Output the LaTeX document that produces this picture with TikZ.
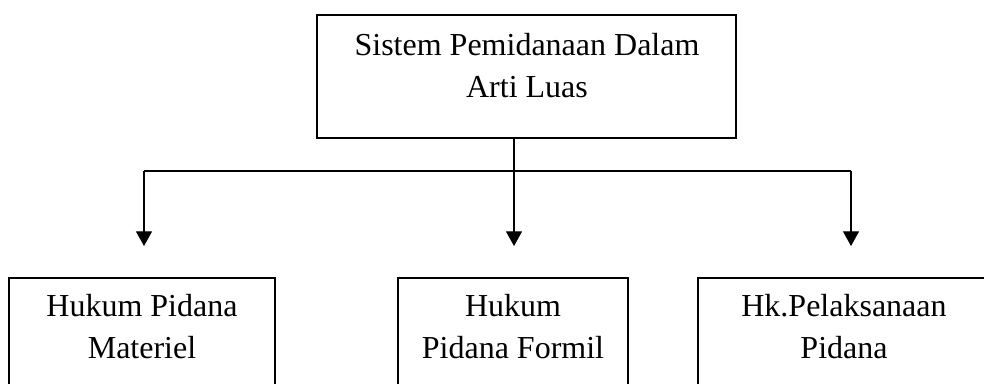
\documentclass[tikz,border=0pt]{standalone}
\usepackage{fontspec}
\setmainfont{Liberation Serif}
\usetikzlibrary{arrows.meta}
\begin{document}
\begin{tikzpicture}[x=0.75pt,y=-0.75pt,
  box/.style={draw, line width=0.9pt, inner sep=0pt},
  lbl/.style={font=\fontsize{24}{31.5}\selectfont, align=center, anchor=base, inner sep=0pt},
  conn/.style={line width=0.9pt},
  arr/.style={conn, -{Triangle[width=12pt,length=11pt]}}]
\useasboundingbox (0,0) rectangle (984,383);
\clip (0,0) rectangle (984,383);
% boxes
\node[box, minimum width=314.25pt, minimum height=92.25pt] (top) at (526.5,76.5) {};
\node[box, minimum width=199.5pt, minimum height=106.5pt] (left) at (142,349) {};
\node[box, minimum width=172.5pt, minimum height=106.5pt] (mid) at (513,349) {};
\node[box, minimum width=219pt, minimum height=106.5pt] (right) at (844,349) {};
% texts (anchor base = baseline of the last line)
\node[lbl] (ttop) at (527,97) {Sistem Pemidanaan Dalam\\Arti Luas};
\node[lbl] (tleft) at (142,358) {Hukum Pidana\\Materiel};
\node[lbl] (tmid) at (513,358) {Hukum\\Pidana Formil};
\node[lbl] (tright) at (844,358) {Hk.Pelaksanaan\\Pidana};
% connectors
\coordinate (j) at (514,171);
\coordinate (hl) at (144,171);
\coordinate (hr) at (851,171);
\coordinate (el) at (144,246);
\coordinate (em) at (514,246);
\coordinate (er) at (851,246);
\draw[conn] (top.south -| j) -- (j);
\draw[conn] (hl) -- (hr);
\draw[arr] (hl) -- (el);
\draw[arr] (j) -- (em);
\draw[arr] (hr) -- (er);
\end{tikzpicture}
\end{document}
